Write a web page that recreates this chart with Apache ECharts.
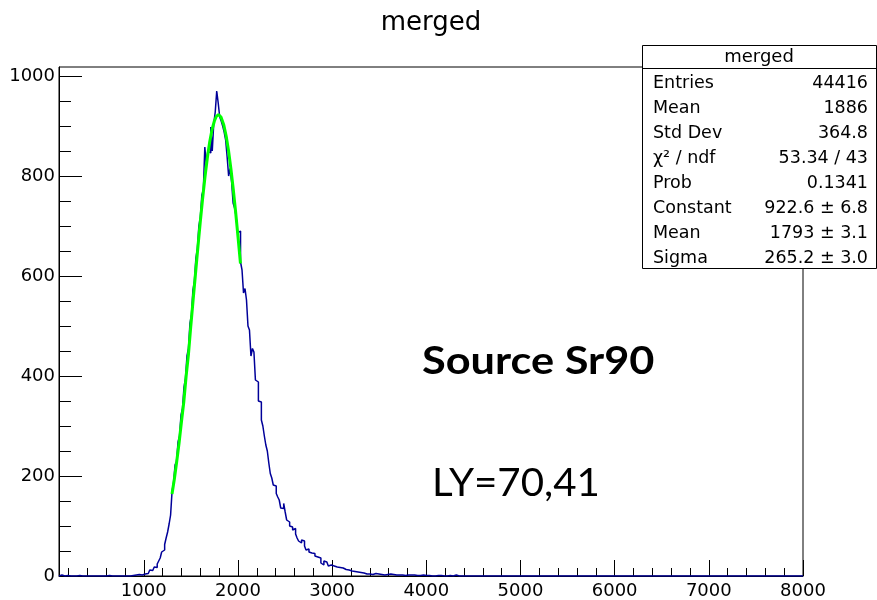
<!DOCTYPE html>
<html>
<head>
<meta charset="utf-8">
<script src="https://cdn.jsdelivr.net/npm/echarts@6/dist/echarts.min.js"></script>
<style>
html,body{margin:0;padding:0;background:#fff;}
#chart{width:877px;height:600px;}
</style>
</head>
<body>
<div id="chart"></div>
<script>
// ---------------- data ----------------
const chartTitle = 'merged';
const histMin = 100;
const histMax = 8000;
const binWidth = 15.8;           // (8000-100)/500 bins
const binCounts = [
  0,2,0,0,0,1,0,0,2,0,
  0,0,0,1,0,0,0,0,0,0,
  0,0,0,0,0,0,0,0,0,0,
  0,0,0,1,0,0,0,0,0,0,
  0,0,0,0,0,0,0,0,0,1,
  0,2,1,3,2,2,3,4,6,5,
  9,12,11,15,18,17,24,30,36,48,
  52,63,76,88,104,122,170,188,222,230,
  268,280,322,335,378,396,440,455,505,522,
  572,590,636,655,700,718,762,772,858,822,
  850,846,898,850,905,928,970,946,918,910,
  900,888,872,838,800,815,788,746,736,720,
  686,690,628,612,566,575,552,500,492,440,
  455,448,392,388,350,348,312,300,280,262,
  250,226,205,196,182,180,165,158,152,136,
  135,145,128,112,108,100,98,92,95,84,
  76,70,66,72,70,60,52,54,48,46,
  44,45,40,38,40,36,26,22,30,28,
  24,20,22,19,20,16,18,15,17,14,
  16,12,13,11,12,9,10,8,9,7,
  8,6,7,5,6,5,4,5,4,5,
  3,4,5,3,4,3,3,4,2,3,
  3,2,4,2,3,2,2,3,2,1,
  2,3,1,2,2,1,2,1,2,1,
  1,2,1,1,2,1,1,0,1,1,
  0,1,0,1,1,0,1,0,0,1,
  0,0,1,0,0,1,2,0,0,1,
  0,0,0,1,0,0,0,0,0,1,
  0,0,0,0,0,1,0,0,0,0
];
const fitX = [1300,1325,1350,1375,1400,1425,1450,1475,1500,1525,1550,1575,1600,1625,1650,1675,1700,1725,1750,1770,1793,1820,1850,1875,1900,1925,1950,1975,2000,2027];
const fitY = [164,194,229,266,308,348,400,444,501,554,606,658,708,755,798,836,868,893,910,919,923,918,902,880,851,815,774,729,680,625];
const xTickValues = [1000,2000,3000,4000,5000,6000,7000,8000];
const xMinorValues = [200,400,600,800,1200,1400,1600,1800,2200,2400,2600,2800,3200,3400,3600,3800,4200,4400,4600,4800,5200,5400,5600,5800,6200,6400,6600,6800,7200,7400,7600,7800];
const yTickValues = [0,200,400,600,800,1000];
const yMinorValues = [50,100,150,250,300,350,450,500,550,650,700,750,850,900,950];
const yMax = 1018;
const statTitle = 'merged';
const statLabels = ['Entries','Mean','Std Dev','χ² / ndf','Prob','Constant','Mean','Sigma'];
const statValues = ['44416','1886','364.8','53.34 / 43','0.1341','922.6 ± 6.8','1793 ± 3.1','265.2 ± 3.0'];
const noteSource = 'Source Sr90';
const noteLY = 'LY=70,41';

// ---------------- build ----------------
const nBins = Math.round((histMax - histMin) / binWidth);
const histPts = [];
for (let i = 0; i < nBins; i++) {
  const c = i < binCounts.length ? binCounts[i] : 0;
  const lo = histMin + i * binWidth, hi = histMin + (i + 1) * binWidth;
  histPts.push([lo, c], [hi, c]);
}
const fitPts = fitX.map((x, i) => [x, fitY[i]]);

const F = 'DejaVu Sans';
const chart = echarts.init(document.getElementById('chart'), null, {renderer: 'canvas'});

const G = {left: 59, top: 67, right: 803, bottom: 576};
const box = {x: 642, y: 45, w: 234, h: 223, head: 23, row: 25};

const graphics = [
  {type: 'text', x: 431, y: 23, style: {text: chartTitle, font: '26px "DejaVu Sans"', fill: '#000', textAlign: 'center', textVerticalAlign: 'middle'}, z: 100},
  {type: 'rect', shape: {x: box.x + 0.5, y: box.y + 0.5, width: box.w, height: box.h}, style: {fill: '#fff', stroke: '#000', lineWidth: 1}, z: 100},
  {type: 'line', shape: {x1: box.x, y1: box.y + box.head + 0.5, x2: box.x + box.w, y2: box.y + box.head + 0.5}, style: {stroke: '#000', lineWidth: 1}, z: 101},
  {type: 'text', x: box.x + box.w / 2, y: box.y + 12, style: {text: statTitle, font: '18px "DejaVu Sans"', fill: '#000', textAlign: 'center', textVerticalAlign: 'middle'}, z: 101},
  {type: 'text', x: 422, y: 362, scaleX: 1.14, style: {text: noteSource, font: 'bold 38px Lato', fill: '#000', textAlign: 'left', textVerticalAlign: 'middle'}, z: 100},
  {type: 'text', x: 432, y: 484, scaleX: 1.06, style: {text: noteLY, font: '38px Lato', fill: '#000', textAlign: 'left', textVerticalAlign: 'middle'}, z: 100}
];
statLabels.forEach((lab, i) => {
  const cy = 83 + i * box.row;
  graphics.push({type: 'text', x: 653, y: cy, style: {text: lab, font: '17.5px "DejaVu Sans"', fill: '#000', textAlign: 'left', textVerticalAlign: 'middle'}, z: 101});
  graphics.push({type: 'text', x: 868, y: cy, style: {text: statValues[i], font: '17.5px "DejaVu Sans"', fill: '#000', textAlign: 'right', textVerticalAlign: 'middle'}, z: 101});
});

const plainNum = v => String(Math.round(v));

chart.setOption({
  animation: false,
  backgroundColor: '#fff',
  grid: {left: G.left, top: G.top, right: 877 - G.right, bottom: 600 - G.bottom, show: true, borderColor: '#000', borderWidth: 1, backgroundColor: 'transparent', containLabel: false},
  xAxis: [
    {
      type: 'value', min: histMin, max: histMax, position: 'bottom',
      axisLine: {show: true, lineStyle: {color: '#000', width: 1}}, splitLine: {show: false},
      axisTick: {show: true, inside: true, length: 16, customValues: xTickValues, lineStyle: {color: '#000', width: 1}},
      axisLabel: {show: true, customValues: xTickValues, formatter: plainNum, color: '#000', fontFamily: F, fontSize: 18, margin: 6}
    },
    {
      type: 'value', min: histMin, max: histMax, position: 'bottom', offset: 0,
      axisLine: {show: false}, splitLine: {show: false},
      axisTick: {show: true, inside: true, length: 8, customValues: xMinorValues, lineStyle: {color: '#000', width: 1}},
      axisLabel: {show: false}
    }
  ],
  yAxis: [
    {
      type: 'value', min: 0, max: yMax, position: 'left',
      axisLine: {show: true, lineStyle: {color: '#000', width: 1}}, splitLine: {show: false},
      axisTick: {show: true, inside: true, length: 23, customValues: yTickValues, lineStyle: {color: '#000', width: 1}},
      axisLabel: {show: true, customValues: yTickValues, formatter: plainNum, color: '#000', fontFamily: F, fontSize: 18, margin: 4}
    },
    {
      type: 'value', min: 0, max: yMax, position: 'left', offset: 0,
      axisLine: {show: false}, splitLine: {show: false},
      axisTick: {show: true, inside: true, length: 12, customValues: yMinorValues, lineStyle: {color: '#000', width: 1}},
      axisLabel: {show: false}
    }
  ],
  series: [
    {
      type: 'line', name: 'merged', xAxisIndex: 0, yAxisIndex: 0,
      data: histPts, showSymbol: false, symbol: 'none',
      lineStyle: {color: '#000099', width: 1.5}, clip: true, z: 3
    },
    {
      type: 'line', name: 'fit', xAxisIndex: 0, yAxisIndex: 0,
      data: fitPts, showSymbol: false, symbol: 'none', smooth: false,
      lineStyle: {color: '#00ff00', width: 3}, clip: true, z: 4
    }
  ],
  graphic: graphics
});
</script>
</body>
</html>
